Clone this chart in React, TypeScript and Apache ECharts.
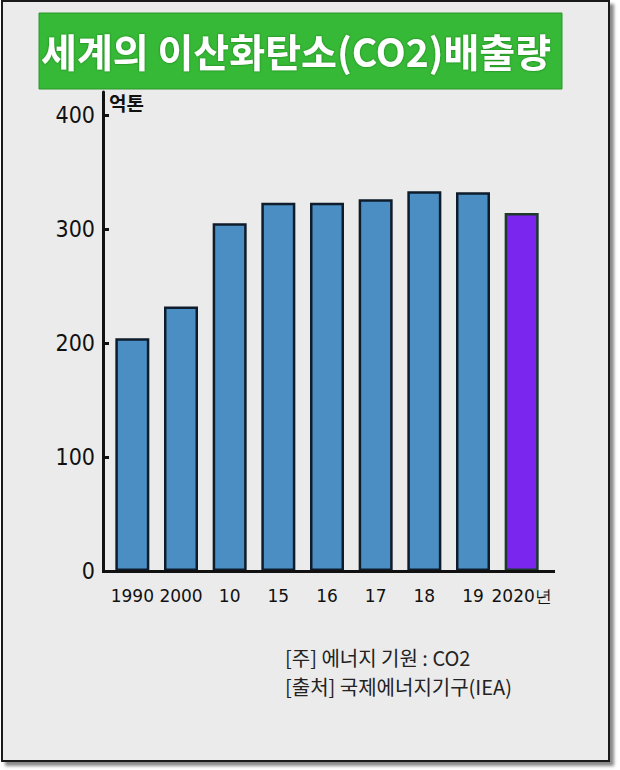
import React, { useEffect, useRef } from "react";
import * as echarts from "echarts";

const years = ["1990", "2000", "10", "15", "16", "17", "18", "19", "2020년"];
const emissions = [204, 232, 305, 323, 323, 326, 333, 332, 314];
const highlightIndex = 8;
const yTicks = [0, 100, 200, 300, 400];
const titleText = "세계의 이산화탄소(CO2)배출량";
const unitText = "억톤";
const noteLines = ["[주] 에너지 기원 : CO2", "[출처] 국제에너지기구(IEA)"];

export default function App() {
  const ref = useRef<HTMLDivElement>(null);
  useEffect(() => {
    if (!ref.current) return;
    const chart = echarts.init(ref.current, null, { renderer: "svg" });
    const noteStyle = {
      fontFamily: "Noto Sans CJK KR",
      fontWeight: "normal",
      fontSize: 20,
      lineHeight: 20,
      color: "#222222",
    };
    chart.setOption({
      animation: false,
      backgroundColor: "transparent",
      title: [
        {
          text: titleText,
          left: 41,
          top: 30,
          padding: 0,
          textStyle: {
            fontFamily: "Noto Sans CJK KR",
            fontWeight: "bold",
            fontSize: 39,
            lineHeight: 39,
            color: "#ffffff",
            textShadowColor: "rgba(0,60,0,0.55)",
            textShadowBlur: 2,
          },
        },
        { text: noteLines[0], left: 285, top: 647, padding: 0, textStyle: noteStyle },
        { text: noteLines[1], left: 285, top: 676, padding: 0, textStyle: noteStyle },
      ],
      graphic: [
        {
          type: "rect",
          z: -10,
          shape: { x: 39, y: 13, width: 523, height: 76 },
          style: { fill: "#36b936", stroke: "#2a962a", lineWidth: 1 },
        },
        {
          type: "line",
          z: 10,
          shape: { x1: 102, y1: 571.5, x2: 555, y2: 571.5 },
          style: { stroke: "#111111", lineWidth: 3 },
        },
      ],
      grid: { left: 108, right: 74, top: 92, bottom: 199 },
      xAxis: {
        type: "category",
        data: years,
        axisLine: { show: false },
        axisTick: { show: false },
        axisLabel: {
          interval: 0,
          hideOverlap: false,
          margin: 16,
          fontFamily: "DejaVu Sans",
          fontSize: 17,
          color: "#111111",
        },
      },
      yAxis: {
        type: "value",
        min: 0,
        max: 420,
        interval: 100,
        offset: 5,
        name: unitText,
        nameLocation: "end",
        nameGap: 0,
        nameTextStyle: {
          fontFamily: "Noto Sans CJK KR",
          fontWeight: "bold",
          fontSize: 19,
          color: "#111111",
          align: "left",
          verticalAlign: "top",
          padding: [1, 0, 0, 6],
        },
        splitLine: { show: false },
        axisLine: { show: true, lineStyle: { color: "#111111", width: 3 } },
        axisTick: {
          show: true,
          inside: true,
          length: 6,
          customValues: yTicks,
          lineStyle: { color: "#111111", width: 3 },
        },
        axisLabel: {
          customValues: yTicks,
          margin: 8,
          fontFamily: "'DejaVu Sans Condensed', 'Liberation Sans', sans-serif",
          fontSize: 23,
          color: "#111111",
        },
      },
      series: [
        {
          type: "bar",
          barWidth: 34,
          data: emissions.map((v, i) => ({
            value: v,
            itemStyle: {
              color: i === highlightIndex ? "#7b26ee" : "#4b8ec3",
              borderColor: i === highlightIndex ? "#1d3a2a" : "#0e1c2c",
              borderWidth: 2.5,
            },
          })),
        },
      ],
    });
    return () => chart.dispose();
  }, []);

  return (
    <div style={{ position: "fixed", left: 0, top: 0, width: 620, height: 770, background: "#ffffff" }}>
      <div
        style={{
          position: "absolute",
          left: 1,
          top: 0,
          width: 605,
          height: 758,
          background: "#ebebeb",
          border: "2px solid #1a1a1a",
          boxShadow: "4px 4px 3px #8a8a8a",
        }}
      />
      <div ref={ref} style={{ position: "absolute", left: 0, top: 0, width: 620, height: 770 }} />
    </div>
  );
}
